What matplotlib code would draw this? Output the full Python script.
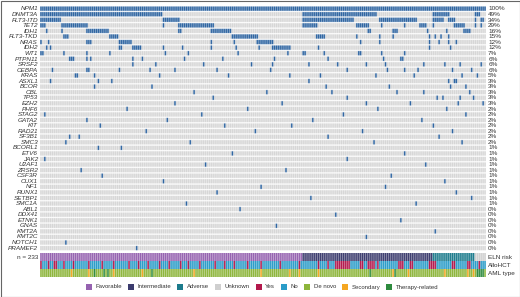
import matplotlib
matplotlib.use("Agg")
import numpy as np
import matplotlib.pyplot as plt
from matplotlib.colors import to_rgb
from matplotlib.patches import Rectangle

plt.rcParams["font.family"] = ["Liberation Sans", "DejaVu Sans"]

N_SAMPLES = 233

genes = ["NPM1", "DNMT3A", "FLT3-ITD", "TET2", "IDH1", "FLT3-TKD", "NRAS", "IDH2",
         "WT1", "PTPN11", "SRSF2", "CEBPA", "KRAS", "ASXL1", "BCOR", "CBL", "TP53",
         "EZH2", "PHF6", "STAG2", "GATA2", "KIT", "RAD21", "SF3B1", "SMC3", "BCORL1",
         "ETV6", "JAK2", "U2AF1", "ZRSR2", "CSF3R", "CUX1", "NF1", "RUNX1", "SETBP1",
         "SMC1A", "ABL1", "DDX41", "ETNK1", "GNAS", "KMT2A", "KMT2C", "NOTCH1", "PRAMEF2"]

pct_labels = ["100%", "49%", "34%", "29%", "16%", "15%", "12%", "12%", "7%", "6%", "6%",
              "6%", "5%", "3%", "3%", "3%", "3%", "3%", "2%", "2%", "2%", "2%", "2%",
              "2%", "2%", "1%", "1%", "1%", "1%", "1%", "1%", "1%", "1%", "1%", "1%",
              "1%", "0%", "0%", "0%", "0%", "0%", "0%", "0%", "0%"]

# mutated samples per gene, as inclusive (first, last) sample runs
mut_runs = [
    [(0, 232)],
    [(0, 63), (137, 175), (205, 213), (227, 229)],
    [(0, 10), (64, 72), (137, 163), (177, 196), (205, 210), (213, 216), (227, 227), (230, 231)],
    [(0, 2), (11, 24), (64, 64), (72, 90), (137, 144), (165, 171), (178, 178), (190, 190),
     (198, 201), (205, 205), (216, 221), (227, 227), (230, 230)],
    [(3, 3), (11, 11), (24, 35), (72, 73), (89, 99), (171, 172), (184, 186), (202, 202),
     (212, 212), (221, 224)],
    [(12, 14), (36, 40), (100, 113), (144, 148), (165, 165), (177, 177), (184, 184),
     (203, 203), (206, 206), (209, 209), (213, 213)],
    [(0, 0), (4, 4), (24, 26), (41, 47), (89, 89), (101, 101), (113, 121), (167, 167),
     (177, 177), (203, 203), (208, 208), (213, 213), (217, 217)],
    [(3, 3), (5, 5), (41, 42), (48, 52), (64, 64), (74, 74), (89, 89), (102, 102),
     (114, 114), (121, 130), (145, 145), (203, 203), (214, 214)],
    [(0, 1), (12, 12), (24, 24), (36, 36), (65, 65), (77, 77), (103, 103), (129, 129),
     (137, 138), (148, 148), (166, 167), (178, 178), (190, 190)],
    [(15, 17), (24, 24), (26, 26), (48, 48), (53, 53), (75, 75), (95, 95), (122, 122),
     (179, 179), (188, 189), (150, 150)],
    [(48, 48), (60, 60), (85, 85), (110, 110), (121, 121), (140, 140), (155, 155),
     (170, 170), (180, 180), (200, 200), (211, 211), (219, 219), (230, 230)],
    [(6, 6), (24, 25), (41, 41), (57, 57), (70, 70), (92, 92), (120, 120), (160, 160),
     (181, 181), (190, 190), (197, 197), (215, 215), (225, 225)],
    [(18, 19), (28, 28), (62, 62), (98, 98), (130, 130), (146, 146), (175, 175),
     (195, 195), (220, 220), (228, 228)],
    [(5, 5), (30, 30), (37, 37), (140, 140), (213, 213), (216, 217)],
    [(28, 28), (58, 58), (149, 149), (214, 214), (222, 222), (182, 182)],
    [(80, 80), (118, 118), (152, 152), (186, 186), (200, 200), (224, 224)],
    [(90, 90), (160, 160), (207, 207), (210, 210), (219, 219), (226, 226)],
    [(70, 70), (126, 126), (170, 170), (193, 193), (218, 218), (231, 231)],
    [(45, 45), (108, 108), (176, 176), (212, 212)],
    [(2, 2), (84, 84), (158, 158), (222, 222)],
    [(24, 24), (66, 66), (142, 142), (199, 199)],
    [(31, 31), (96, 96), (131, 131), (205, 205)],
    [(55, 55), (112, 112), (168, 168), (215, 215)],
    [(15, 15), (20, 20), (150, 150), (208, 208)],
    [(13, 13), (78, 78), (174, 174), (220, 220)],
    [(30, 30), (42, 42)],
    [(100, 100), (190, 190)],
    [(2, 2), (160, 160)],
    [(86, 86), (201, 201)],
    [(21, 21), (128, 128)],
    [(32, 32), (183, 183)],
    [(64, 64), (211, 211)],
    [(115, 115), (180, 180)],
    [(92, 92), (217, 217)],
    [(141, 141), (225, 225)],
    [(76, 76), (196, 196)],
    [(104, 104)],
    [(154, 154)],
    [(188, 188)],
    [(123, 123)],
    [(206, 206)],
    [(170, 170)],
    [(13, 13)],
    [(50, 50)],
]

eln_runs = [(0, 136, "Favorable"), (137, 204, "Intermediate"), (205, 226, "Adverse"),
            (227, 232, "Unknown")]

allo_yes = [0, 4, 7, 8, 12, 17, 25, 32, 38, 46, 51, 56, 62, 67, 73, 77, 83, 91, 96, 101,
            108, 115, 125, 135, 145, 150, 154, 155, 156, 157, 158, 159, 160, 161, 167, 168,
            171, 172, 173, 174, 176, 187, 188, 189, 193, 194, 203, 204, 205, 206, 215,
            216, 223, 224, 229]

aml_secondary = [16, 25, 38, 53, 80, 115, 130, 135, 145, 184, 192, 211, 223, 226]
aml_therapy = [28, 33, 35, 58, 172, 185, 228, 229, 230, 231]

C_MUT = "#2c63a0"
C_BG = "#d6d6d6"
C_ELN = {"Favorable": "#9562b0", "Intermediate": "#3c3c6e", "Adverse": "#1c7b8c",
         "Unknown": "#cfcfcf"}
C_YES, C_NO = "#b3184c", "#2a9cc8"
C_DENOVO, C_SEC, C_THER = "#8db53b", "#f5a722", "#2e8b3e"
TXT = "#333333"

W, H = 520, 297
fig = plt.figure(figsize=(W / 100, H / 100), dpi=100)
fig.patch.set_facecolor("white")

left, right, top, bottom = 39.5, 484.7, 6.2, 277.8
ax = fig.add_axes([left / W, 1 - bottom / H, (right - left) / W, (bottom - top) / H])
ax.axis("off")

SX, SY = 20, 24
FILL_X = 16  # coloured sub-columns out of SX


def upsample(colors, fill_y):
    """colors: (rows, samples, 3) -> supersampled image with white gaps."""
    big = np.repeat(np.repeat(colors, SY, axis=0), SX, axis=1)
    mx = (np.arange(big.shape[1]) % SX) < FILL_X
    my = (np.arange(big.shape[0]) % SY) < fill_y
    big[~my, :, :] = 1.0
    big[:, ~mx, :] = 1.0
    big = np.roll(big, (SX - FILL_X) // 2, axis=1)
    big = np.roll(big, (SY - fill_y) // 2, axis=0)
    return big


mat = np.empty((len(genes), N_SAMPLES, 3))
mat[:] = to_rgb(C_BG)
for r, runs in enumerate(mut_runs):
    for a, b in runs:
        mat[r, a:b + 1] = to_rgb(C_MUT)
ax.imshow(upsample(mat, 19), extent=(0, N_SAMPLES, len(genes) - 0.5, -0.5),
          aspect="auto", interpolation="antialiased")

ann_y = [(44.07, 45.33), (45.51, 46.77), (46.94, 48.2)]
eln_col = np.empty((1, N_SAMPLES, 3))
for a, b, k in eln_runs:
    eln_col[0, a:b + 1] = to_rgb(C_ELN[k])
allo_col = np.array([[to_rgb(C_YES) if s in allo_yes else to_rgb(C_NO)
                      for s in range(N_SAMPLES)]])
aml_col = np.array([[to_rgb(C_SEC) if s in aml_secondary else
                     to_rgb(C_THER) if s in aml_therapy else to_rgb(C_DENOVO)
                     for s in range(N_SAMPLES)]])
for (y0, y1), cols in zip(ann_y, [eln_col, allo_col, aml_col]):
    ax.imshow(upsample(cols, SY), extent=(0, N_SAMPLES, y1, y0), aspect="auto",
              interpolation="antialiased")
ax.set_xlim(0, N_SAMPLES)
ax.set_ylim(48.35, -0.5)

fs = 4.6
for r, (g, p) in enumerate(zip(genes, pct_labels)):
    ax.text(-0.8, r, g, ha="right", va="center", fontsize=fs, style="italic", color=TXT)
    ax.text(N_SAMPLES + 1.8, r, p, ha="left", va="center", fontsize=fs, color=TXT)
for (y0, y1), lab in zip(ann_y, ["ELN risk", "AlloHCT", "AML type"]):
    ax.text(N_SAMPLES + 1.8, (y0 + y1) / 2, lab, ha="left", va="center", fontsize=fs,
            color=TXT)
ax.text(-0.8, sum(ann_y[0]) / 2, "n = 233", ha="right", va="center", fontsize=fs, color=TXT)

leg_items = [("Favorable", C_ELN["Favorable"]), ("Intermediate", C_ELN["Intermediate"]),
             ("Adverse", C_ELN["Adverse"]), ("Unknown", C_ELN["Unknown"]),
             ("Yes", C_YES), ("No", C_NO), ("De novo", C_DENOVO),
             ("Secondary", C_SEC), ("Therapy-related", C_THER)]
renderer = fig.canvas.get_renderer()
ly = 287
lx = 86.0
for lab, col in leg_items:
    fig.patches.append(Rectangle((lx / W, 1 - (ly + 3) / H), 6 / W, 6 / H,
                                 transform=fig.transFigure, facecolor=col, edgecolor="none"))
    t = fig.text((lx + 9.5) / W, 1 - ly / H, lab, ha="left", va="center", fontsize=4.3,
                 color=TXT)
    wpx = t.get_window_extent(renderer=renderer).width
    lx += 9.5 + wpx + 6.0

fig.patches.append(Rectangle((0.5 / W, 0.5 / H), (W - 1) / W, (H - 1) / H,
                             transform=fig.transFigure, facecolor="none",
                             edgecolor="#666666", linewidth=0.8))

fig.savefig("out.png", dpi=100)
